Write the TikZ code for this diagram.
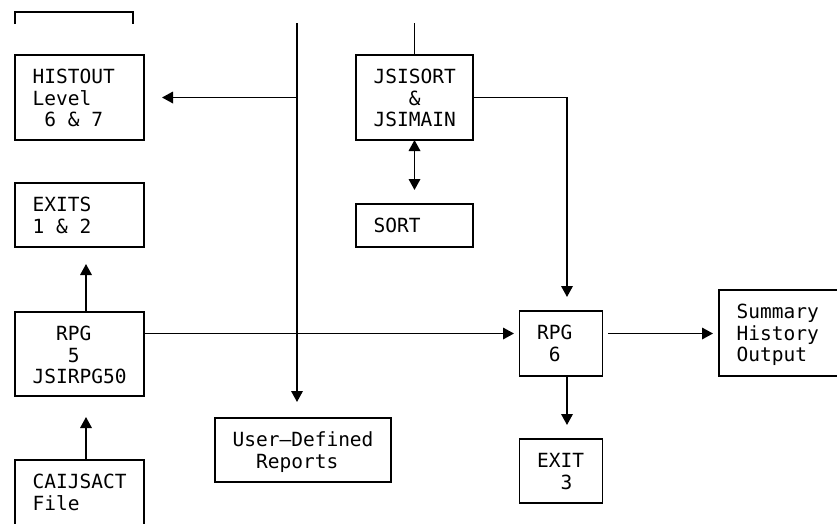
\documentclass[tikz,border=0pt]{standalone}
\usepackage{fontspec}
\newfontfamily\dvm{DejaVu Sans Mono}
\usetikzlibrary{arrows.meta}
\newcommand\rs{\rule[-3.5pt]{0pt}{21.5pt}}
\newcommand\ph[1]{\hphantom{#1}}
\newcommand\boxfont{\dvm\fontsize{19.5}{21.5}\selectfont}
\lineskiplimit=-100pt
\begin{document}
\begin{tikzpicture}[x=1pt,y=-1pt,line width=1.8pt,
  box/.style n args={2}{draw, line width=1.8pt, minimum width=#1pt, minimum height=#2pt, inner sep=0pt, outer sep=0pt},
  txt/.style={font=\boxfont, align=left, inner sep=0pt, outer sep=0pt, anchor=north west},
  conn/.style={line width=1.8pt},
  arr/.style={conn, -{Triangle[length=11pt,width=11.5pt]}},
  arrtwo/.style={conn, {Triangle[length=11pt,width=11.5pt]}-{Triangle[length=11pt,width=11.5pt]}}
]
\useasboundingbox (0,0) rectangle (837,523);
\clip (0,0) rectangle (837,523);
% partial box at top
\draw[conn] (15,24) -- (15,12) -- (133,12) -- (133,24);
% boxes
\node[box={129}{85}] (histout) at (79.5,97.5) {};
\node[box={129}{64}] (exits) at (79.5,215) {};
\node[box={129}{84}] (rpg5) at (79.5,354) {};
\node[box={129}{86}] (caij) at (79.5,503) {};
\node[box={117}{85}] (jsisort) at (414.5,97.5) {};
\node[box={117}{43}] (sort) at (414.5,225.5) {};
\node[box={176}{64}] (user) at (303,450) {};
\node[box={83}{65}] (rpg6) at (561,343.5) {};
\node[box={83}{64}] (exit3) at (561,471) {};
\node[box={140}{86}] (summary) at (789,333) {};
% texts
\node[txt] (histout-t) at ([xshift=17.6pt,yshift=-10.75pt]histout.north west) {\rs HISTOUT\\\rs Level\\\rs\ph{0}6 \& 7};
\node[txt] (exits-t) at ([xshift=17.6pt,yshift=-10.75pt]exits.north west) {\rs EXITS\\\rs 1 \& 2};
\node[txt] (rpg5-t) at ([xshift=17.6pt,yshift=-10.75pt]rpg5.north west) {\rs\ph{00}RPG\\\rs\ph{000}5\\\rs JSIRPG50};
\node[txt] (caij-t) at ([xshift=17.6pt,yshift=-10.75pt]caij.north west) {\rs CAIJSACT\\\rs File};
\node[txt] (jsisort-t) at ([xshift=17.6pt,yshift=-10.75pt]jsisort.north west) {\rs JSISORT\\\rs\ph{000}\&\\\rs JSIMAIN};
\node[txt] (sort-t) at ([xshift=17.6pt,yshift=-10.75pt]sort.north west) {\rs SORT};
\node[txt] (user-t) at ([xshift=17.6pt,yshift=-10.75pt]user.north west) {\rs User—Defined\\\rs\ph{00}Reports};
\node[txt] (rpg6-t) at ([xshift=17.6pt,yshift=-10.75pt]rpg6.north west) {\rs RPG\\\rs\ph{0}6};
\node[txt] (exit3-t) at ([xshift=17.6pt,yshift=-10.75pt]exit3.north west) {\rs EXIT\\\rs\ph{00}3};
\node[txt] (summary-t) at ([xshift=17.6pt,yshift=-10.75pt]summary.north west) {\rs Summary\\\rs History\\\rs Output};
% connectors
\coordinate (bustop) at (297,23);
\coordinate (jtop) at (414.5,23);
\draw[arr, shorten >=16pt] (bustop) -- (bustop |- user.north);
\draw[arr, shorten >=18pt] (bustop |- histout.east) -- (histout.east);
\draw[conn] (jtop) -- (jsisort.north);
\draw[arr, shorten >=14pt] (jsisort.east) -| ([xshift=6pt]rpg6.north);
\draw[arrtwo, shorten >=14pt] (jsisort.south) -- (sort.north);
\draw[arr, shorten >=17pt] ([xshift=6.5pt]rpg5.north) -- ([xshift=6.5pt]exits.south);
\draw[arr, shorten >=21pt] ([xshift=6.5pt]caij.north) -- ([xshift=6.5pt]rpg5.south);
\path ([yshift=20.5pt]rpg5.east) coordinate (r5o);
\draw[arr, shorten >=5.5pt] (r5o) -- (r5o -| rpg6.west);
\draw[arr, shorten <=5.5pt, shorten >=6pt] (rpg6.east |- r5o) -- (summary.west |- r5o);
\draw[arr, shorten >=14pt] ([xshift=6pt]rpg6.south) -- ([xshift=6pt]exit3.north);
\end{tikzpicture}
\end{document}
